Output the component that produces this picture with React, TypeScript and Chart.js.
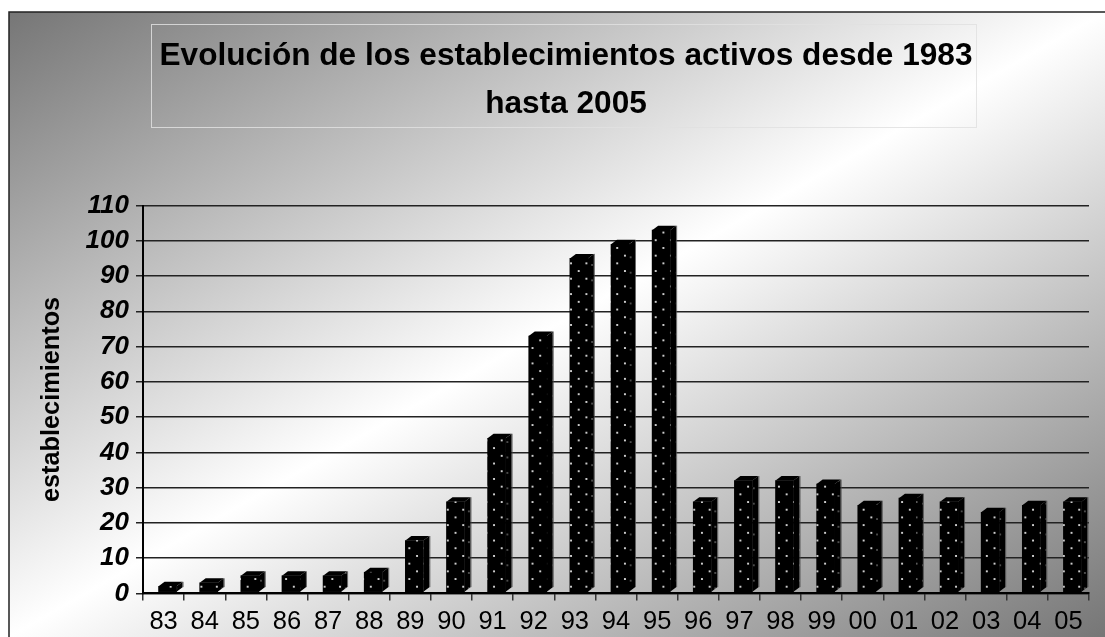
import React, { useEffect, useRef } from "react";
import { Chart, registerables } from "chart.js";

Chart.register(...registerables);

const categories = ["83","84","85","86","87","88","89","90","91","92","93","94","95","96","97","98","99","00","01","02","03","04","05"];
const establecimientos = [2,3,5,5,5,6,15,26,44,73,95,99,103,26,32,32,31,25,27,26,23,25,26];
const titleLines = ["Evolución de los establecimientos activos desde 1983", "hasta 2005"];
const yTitle = "establecimientos";
const FONT = "'Liberation Sans', Arial, sans-serif";

function dotPattern(ctx: CanvasRenderingContext2D, dot: string, phaseX: number, phaseY: number, bg: string) {
  const c = document.createElement("canvas");
  c.width = 16; c.height = 16;
  const g = c.getContext("2d")!;
  g.fillStyle = bg; g.fillRect(0,0,16,16);
  g.fillStyle = dot;
  g.beginPath(); g.arc(4,4,1.1,0,Math.PI*2); g.fill();
  g.beginPath(); g.arc(12,12,1.1,0,Math.PI*2); g.fill();
  const p = ctx.createPattern(c,"repeat")!;
  const s = 15.4/16;
  p.setTransform(new DOMMatrix([s,0,0,s,phaseX,phaseY]));
  return p;
}

const DX = 6, DY = 4.5, SHIFT = 4;

const backdrop = {
  id: "backdrop",
  beforeDraw(chart: any) {
    const { ctx, width, height } = chart;
    const w = width-9, h = height-12;
    const cx = 9+w/2, cy = 12+h/2;
    const k = (w*h)/(w*w+h*h);
    ctx.save();
    ctx.fillStyle = "#ffffff"; ctx.fillRect(0,0,width,height);
    const g = ctx.createLinearGradient(cx-h*k,cy-w*k,cx+h*k,cy+w*k);
    g.addColorStop(0,"#767676"); g.addColorStop(0.5,"#ffffff"); g.addColorStop(1,"#767676");
    ctx.fillStyle = g; ctx.fillRect(9,12,w,h);
    ctx.strokeStyle = "#222"; ctx.lineWidth = 1.5;
    ctx.beginPath(); ctx.moveTo(9,height); ctx.lineTo(9,12); ctx.lineTo(width,12); ctx.stroke();
    ctx.strokeStyle = "rgba(225,225,225,0.85)"; ctx.lineWidth = 1;
    ctx.strokeRect(151.5,24.5,825,103);
    ctx.restore();
  },
  afterDraw(chart: any) {
    const { ctx, chartArea } = chart;
    ctx.save();
    ctx.translate(59,(chartArea.top+chartArea.bottom)/2);
    ctx.rotate(-Math.PI/2);
    ctx.fillStyle = "#000";
    ctx.font = `bold 25.3px ${FONT}`;
    ctx.textAlign = "center";
    ctx.textBaseline = "alphabetic";
    ctx.fillText(yTitle,0,0);
    ctx.restore();
  },
};

const bars3d = {
  id: "bars3d",
  beforeDatasetsDraw(chart: any) {
    const { ctx } = chart;
    const side = dotPattern(ctx,"rgba(120,120,120,0.8)",-1,-0.7,"#000000");
    ctx.save();
    ctx.translate(SHIFT,0);
    chart.getDatasetMeta(0).data.forEach((b: any) => {
      const l = b.x-b.width/2, r = b.x+b.width/2;
      ctx.fillStyle = "#000";
      ctx.beginPath();
      ctx.moveTo(l,b.y); ctx.lineTo(l+DX,b.y-DY); ctx.lineTo(r+DX,b.y-DY); ctx.lineTo(r,b.y); ctx.closePath(); ctx.fill();
      ctx.fillStyle = side;
      ctx.beginPath();
      ctx.moveTo(r,b.y); ctx.lineTo(r+DX,b.y-DY); ctx.lineTo(r+DX,b.base-DY); ctx.lineTo(r,b.base); ctx.closePath(); ctx.fill();
      ctx.strokeStyle = "rgba(70,70,70,0.8)"; ctx.lineWidth = 1;
      ctx.beginPath(); ctx.moveTo(r+DX+0.5,b.y-DY); ctx.lineTo(r+DX+0.5,b.base-DY); ctx.stroke();
    });
    ctx.restore();
    ctx.save();
    ctx.translate(SHIFT,0);
  },
  afterDatasetsDraw(chart: any) {
    chart.ctx.restore();
  },
};

export default function App() {
  const ref = useRef<HTMLCanvasElement>(null);
  useEffect(() => {
    const ctx = ref.current!.getContext("2d")!;
    const front = dotPattern(ctx,"#ffffff",-6.65,-2.35,"#000000");
    const chart = new Chart(ctx, {
      type: "bar",
      data: { labels: categories, datasets: [{ data: establecimientos, base: 0.5, backgroundColor: front, barThickness: 18, borderWidth: 0, clip: false } as any] },
      plugins: [backdrop, bars3d],
      options: {
        animation: false,
        responsive: false,
        devicePixelRatio: 1,
        layout: { padding: { top: 33, left: 43, right: 16, bottom: -6 } },
        plugins: {
          legend: { display: false },
          tooltip: { enabled: false },
          title: { display: true, text: titleLines, color: "#000", font: { family: FONT, size: 31.6, weight: "bold", lineHeight: 1.5 }, padding: { top: 0, bottom: 77.7 } },
        },
        scales: {
          x: {
            grid: { drawOnChartArea: false, color: "#333", tickLength: 7, lineWidth: 1.5 },
            border: { color: "#000", width: 2 },
            ticks: { color: "#000", font: { family: FONT, size: 25.5 }, maxRotation: 0, autoSkip: false, padding: 6 },
          },
          y: {
            min: 0, max: 110,
            afterFit: (s: any) => { s.width = 100; },
            grid: { color: "#222", lineWidth: 1.5, tickLength: 7 },
            border: { color: "#000", width: 2 },
            ticks: { stepSize: 10, color: "#000", font: { family: FONT, size: 26, weight: "bold", style: "italic" }, padding: 7 },
          },
        },
      },
    } as any);
    return () => chart.destroy();
  }, []);
  return <canvas ref={ref} width={1105} height={637} style={{ position: "absolute", left: 0, top: 0, display: "block" }} />;
}
